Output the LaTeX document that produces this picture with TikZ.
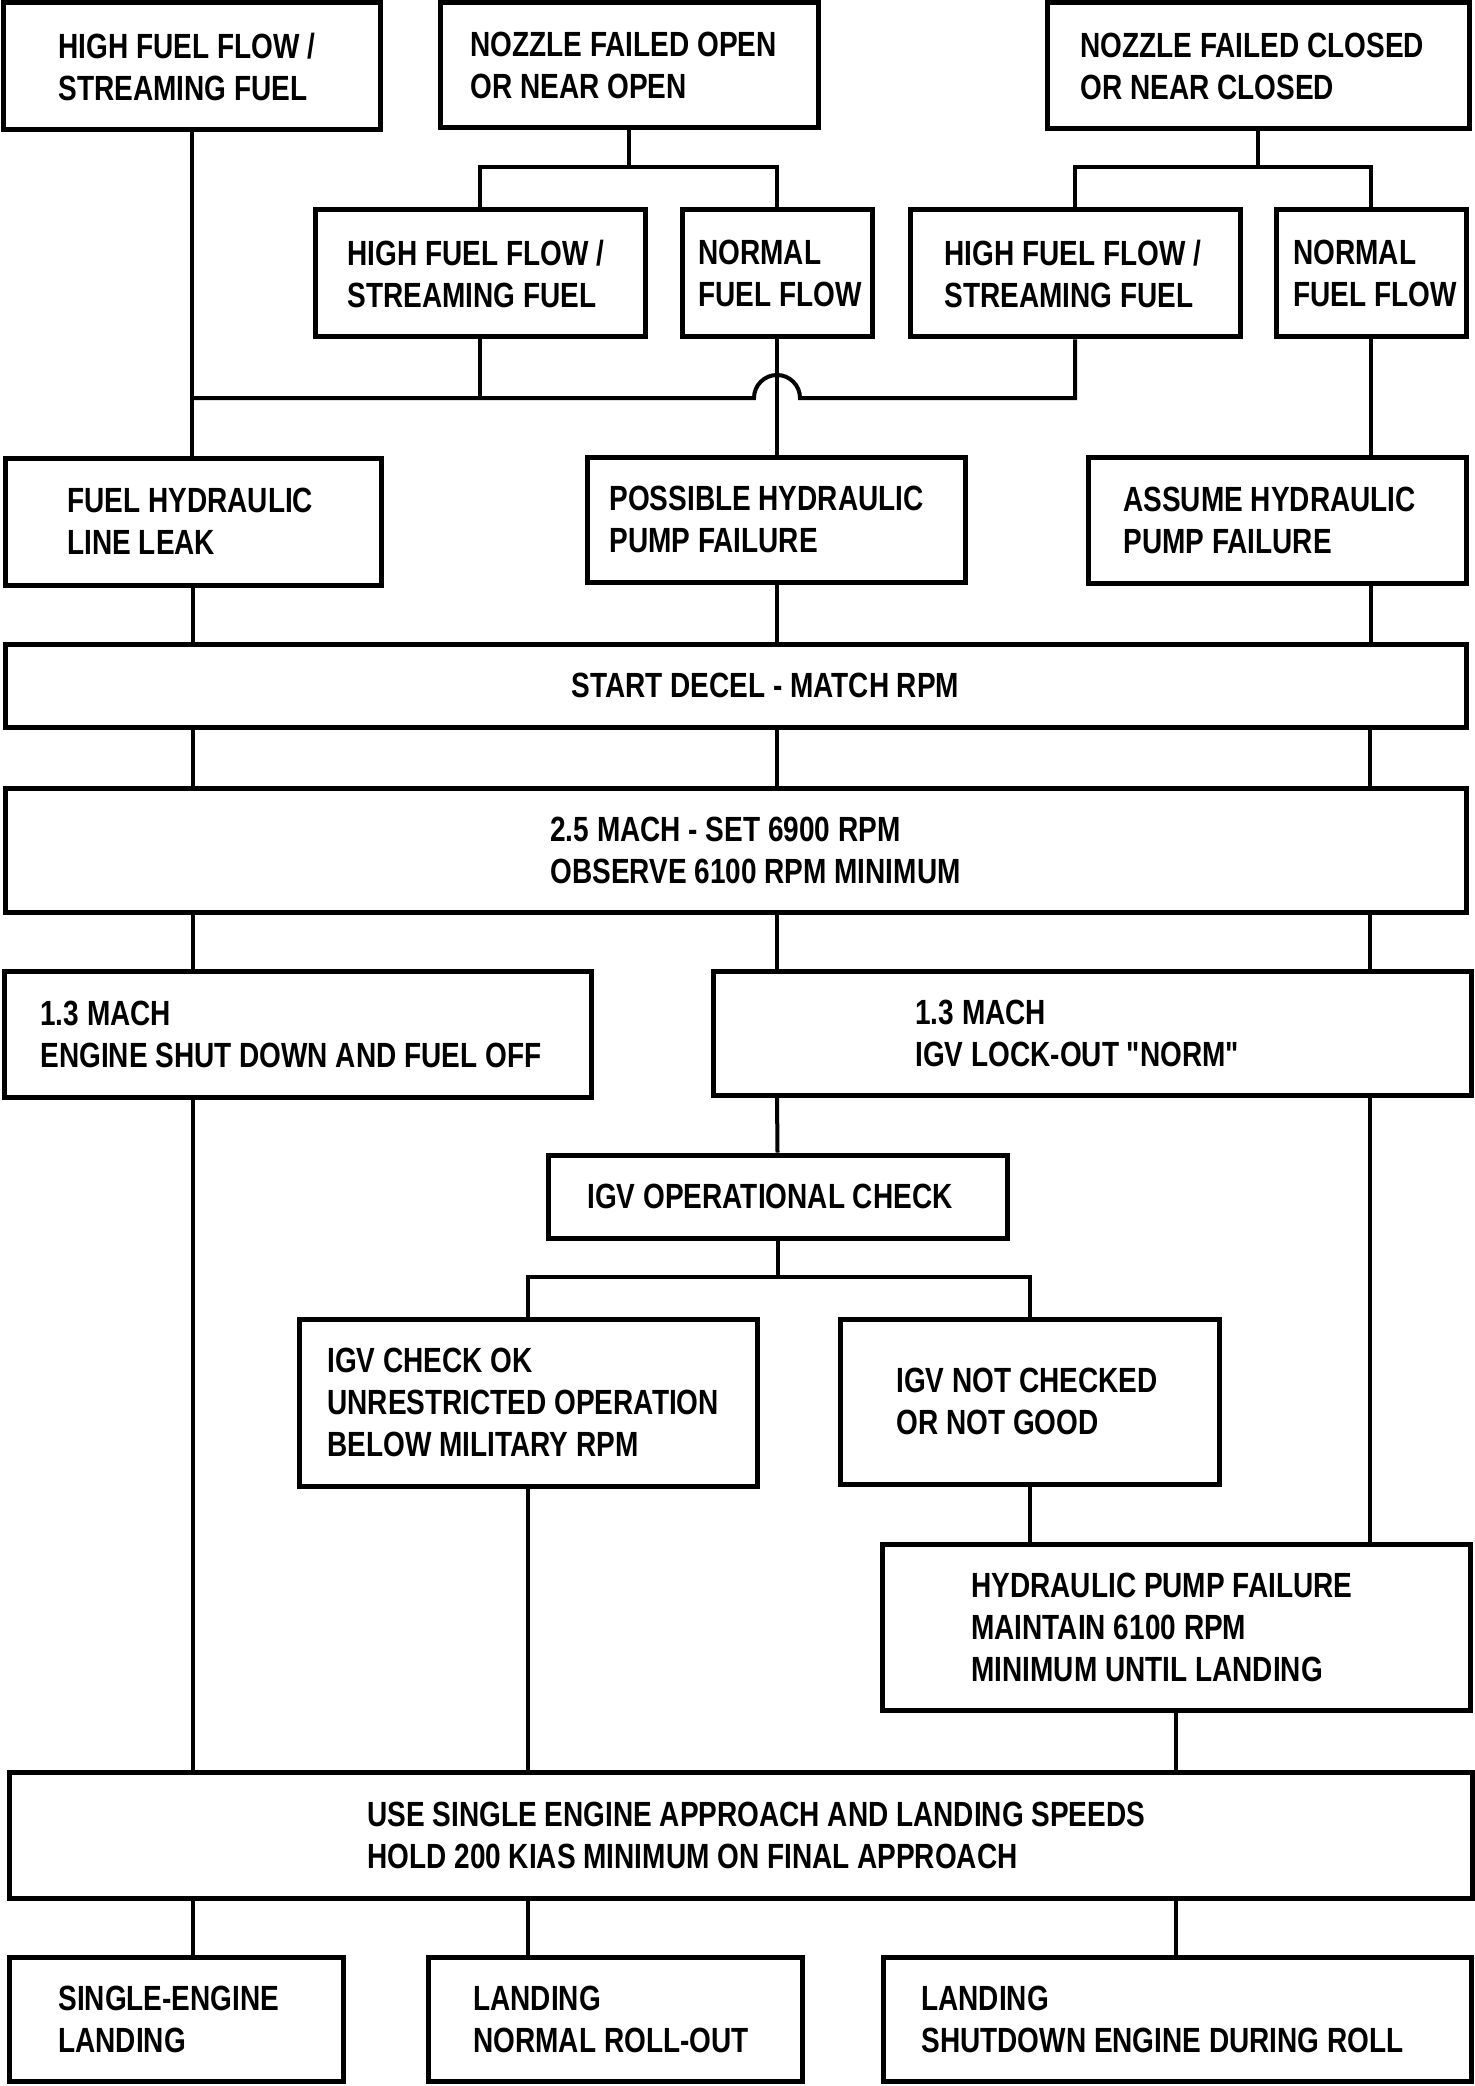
\documentclass[tikz,border=0pt]{standalone}
\usepackage{fontspec}
\newfontfamily\dfont{Liberation Sans}[FakeStretch=0.8,BoldFeatures={FakeStretch=0.8}]
\usetikzlibrary{fit,calc}
\tikzset{
  box/.style={draw, line width=2.5pt, rectangle, inner sep=0pt},
  ln/.style={line width=2pt},
  txt/.style={font=\dfont\fontsize{17.5pt}{21pt}\selectfont\bfseries, align=left, inner sep=0pt, anchor=west}
}
\newcommand\bx[5]{\node[box, fit={(#2,#3) (#4,#5)}] (#1) {};}
\newcommand\tx[3]{\node[txt] (#1t) at (#2,0 |- #1.center) {#3};}
\begin{document}
\begin{tikzpicture}[x=0.5pt,y=-0.5pt]
\useasboundingbox (0,0) rectangle (1474,2086);
% boxes
\bx{A1}{3}{3}{380}{130}
\bx{A2}{440}{3}{818}{128}
\bx{A3}{1047}{3}{1469}{129}
\bx{B1}{315}{210}{645}{337}
\bx{B2}{682}{210}{872}{337}
\bx{B3}{910}{210}{1240}{337}
\bx{B4}{1276}{210}{1466}{337}
\bx{C1}{5}{458}{381}{585}
\bx{C2}{587}{457}{965}{582}
\bx{C3}{1088}{457}{1466}{583}
\bx{D}{5}{644}{1466}{727}
\bx{E}{5}{788}{1466}{912}
\bx{F1}{4}{971}{591}{1097}
\bx{F2}{713}{971}{1471}{1095}
\bx{G}{548}{1155}{1007}{1238}
\bx{H1}{299}{1319}{757}{1486}
\bx{H2}{840}{1319}{1219}{1484}
\bx{I}{882}{1544}{1470}{1710}
\bx{J}{9}{1772}{1472}{1898}
\bx{K1}{9}{1957}{343}{2081}
\bx{K2}{428}{1957}{802}{2081}
\bx{K3}{883}{1957}{1471}{2081}
% texts
\tx{A1}{58}{HIGH FUEL FLOW /\\STREAMING FUEL}
\tx{A2}{470}{NOZZLE FAILED OPEN\\OR NEAR OPEN}
\tx{A3}{1080}{NOZZLE FAILED CLOSED\\OR NEAR CLOSED}
\tx{B1}{347}{HIGH FUEL FLOW /\\STREAMING FUEL}
\tx{B2}{698}{NORMAL\\FUEL FLOW}
\tx{B3}{944}{HIGH FUEL FLOW /\\STREAMING FUEL}
\tx{B4}{1293}{NORMAL\\FUEL FLOW}
\tx{C1}{67}{FUEL HYDRAULIC\\LINE LEAK}
\tx{C2}{609}{POSSIBLE HYDRAULIC\\PUMP FAILURE}
\tx{C3}{1123}{ASSUME HYDRAULIC\\PUMP FAILURE}
\tx{D}{571}{START DECEL - MATCH RPM}
\tx{E}{550}{2.5 MACH - SET 6900 RPM\\OBSERVE 6100 RPM MINIMUM}
\tx{F1}{40}{1.3 MACH\\ENGINE SHUT DOWN AND FUEL OFF}
\tx{F2}{915}{1.3 MACH\\IGV LOCK-OUT "NORM"}
\tx{G}{587}{IGV OPERATIONAL CHECK}
\tx{H1}{327}{IGV CHECK OK\\UNRESTRICTED OPERATION\\BELOW MILITARY RPM}
\tx{H2}{896}{IGV NOT CHECKED\\OR NOT GOOD}
\tx{I}{971}{HYDRAULIC PUMP FAILURE\\MAINTAIN 6100 RPM\\MINIMUM UNTIL LANDING}
\tx{J}{367}{USE SINGLE ENGINE APPROACH AND LANDING SPEEDS\\HOLD 200 KIAS MINIMUM ON FINAL APPROACH}
\tx{K1}{58}{SINGLE-ENGINE\\LANDING}
\tx{K2}{473}{LANDING\\NORMAL ROLL-OUT}
\tx{K3}{921}{LANDING\\SHUTDOWN ENGINE DURING ROLL}
% helper coordinates
\coordinate (yA) at (0,167);
\coordinate (yM) at (0,398);
\coordinate (yG) at (0,1277);
\coordinate (cL) at (193,0);
\coordinate (cM) at (777,0);
\coordinate (cR) at (1370,0);
\coordinate (jR) at ($(B2.south |- yM)+(23,0)$);
% connectors
\draw[ln] (A1.south) -- (A1.south |- C1.north);
\draw[ln] (A2.south) -- (A2.south |- yA);
\draw[ln] (B1.north) -- (B1.north |- yA) -- (B2.north |- yA) -- (B2.north);
\draw[ln] (A3.south) -- (A3.south |- yA);
\draw[ln] (B3.north) -- (B3.north |- yA) -- (B4.north |- yA) -- (B4.north);
\draw[ln] (B1.south) -- (B1.south |- yM);
\draw[ln] (B3.south) -- (B3.south |- yM) -- (jR) arc[start angle=0, end angle=-180, radius=23] -- (A1.south |- yM);
\draw[ln] (B2.south) -- (cM |- C2.north);
\draw[ln] (B4.south) -- (B4.south |- C3.north);
\draw[ln] (cL |- C1.south) -- (cL |- D.north);
\draw[ln] (cM |- C2.south) -- (cM |- D.north);
\draw[ln] (B4.south |- C3.south) -- (B4.south |- D.north);
\draw[ln] (cL |- D.south) -- (cL |- E.north);
\draw[ln] (cM |- D.south) -- (cM |- E.north);
\draw[ln] (cR |- D.south) -- (cR |- E.north);
\draw[ln] (cL |- E.south) -- (cL |- F1.north);
\draw[ln] (cM |- E.south) -- (cM |- F2.north);
\draw[ln] (cR |- E.south) -- (cR |- F2.north);
\draw[ln] (cM |- F2.south) -- (G.north);
\draw[ln] (cR |- F2.south) -- (cR |- I.north);
\draw[ln] (cL |- F1.south) -- (cL |- J.north);
\draw[ln] (G.south) -- (G.south |- yG);
\draw[ln] (H1.north) -- (H1.north |- yG) -- (H2.north |- yG) -- (H2.north);
\draw[ln] (H1.south) -- (H1.south |- J.north);
\draw[ln] (H2.south) -- (H2.south |- I.north);
\draw[ln] (I.south) -- (I.south |- J.north);
\draw[ln] (cL |- J.south) -- (cL |- K1.north);
\draw[ln] (H1.south |- J.south) -- (H1.south |- K2.north);
\draw[ln] (I.south |- J.south) -- (I.south |- K3.north);
\end{tikzpicture}
\end{document}
